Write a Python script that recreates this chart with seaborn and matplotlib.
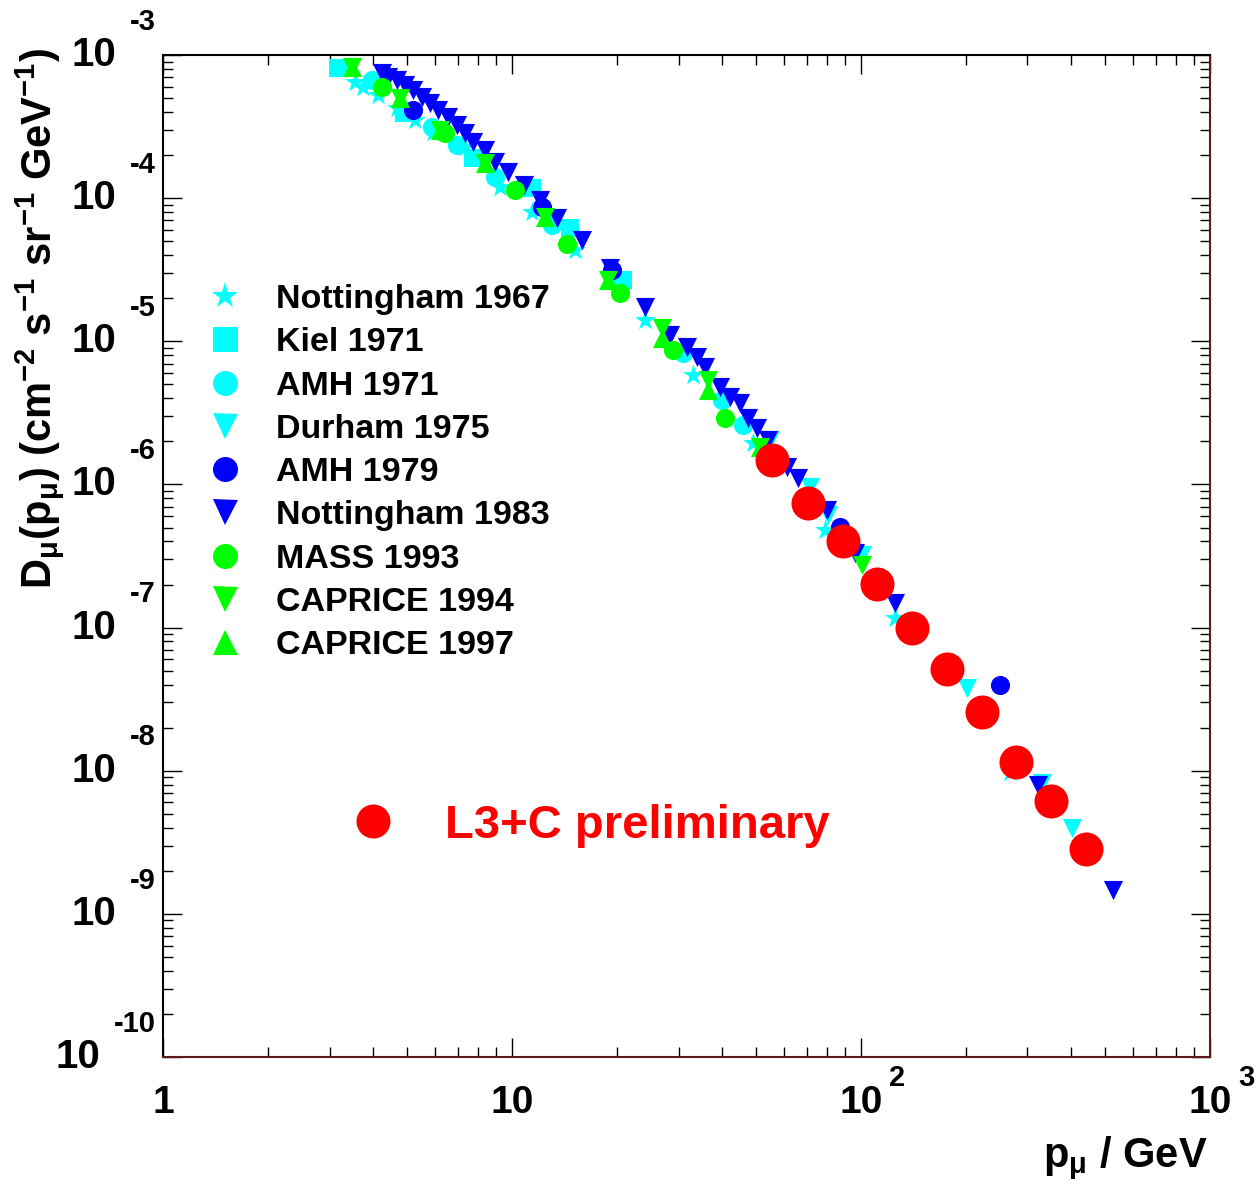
import numpy as np
import matplotlib
matplotlib.use("Agg")
import matplotlib.pyplot as plt
from matplotlib.lines import Line2D
from matplotlib.ticker import LogLocator, NullFormatter
import seaborn as sns

# Muon momentum spectrum, p in GeV, D in cm^-2 s^-1 sr^-1 GeV^-1
nott67_p = [3.55, 3.74, 4.13, 4.68, 5.27, 5.94, 7.33, 9.24, 11.4, 15.2, 24.0, 33.0, 49.0, 78.9, 125, 267]
nott67_d = [6.48e-4, 5.98e-4, 5.25e-4, 4.26e-4, 3.51e-4, 2.90e-4, 2.28e-4, 1.20e-4, 8.0e-5, 4.34e-5,
            1.41e-5, 5.80e-6, 1.94e-6, 4.80e-7, 1.16e-7, 9.8e-9]

kiel71_p = [3.17, 4.90, 7.73, 11.4, 14.7, 20.8]
kiel71_d = [8.11e-4, 3.93e-4, 1.91e-4, 1.18e-4, 6.18e-5, 2.68e-5]

amh71_p = [3.97, 5.90, 6.96, 8.94, 13.0, 30.9, 40.0, 45.9]
amh71_d = [6.69e-4, 3.14e-4, 2.35e-4, 1.40e-4, 6.49e-5, 8.27e-6, 3.88e-6, 2.60e-6]

durham75_p = [54.9, 71.4, 80.4, 101, 201, 330, 402]
durham75_d = [2.04e-6, 9.57e-7, 6.10e-7, 3.21e-7, 3.77e-8, 8.18e-9, 3.96e-9]

amh79_p = [5.20, 12.2, 19.3, 87.1, 250]
amh79_d = [4.13e-4, 8.66e-5, 3.15e-5, 5.03e-7, 3.96e-8]

nott83_p = [4.24, 4.41, 4.68, 4.94, 5.20, 5.52, 5.82, 6.14, 6.55, 6.96, 7.33, 7.73, 8.37, 8.94,
            9.74, 10.8, 12.0, 13.5, 15.9, 19.1, 24.0, 28.4, 31.7, 33.9, 35.7, 39.5, 42.1, 45.0,
            47.5, 50.4, 54.1, 61.4, 66.0, 79.9, 96.1, 125, 321, 527]
nott83_d = [7.48e-4, 7.02e-4, 6.69e-4, 6.17e-4, 5.69e-4, 5.09e-4, 4.62e-4, 4.13e-4, 3.69e-4,
            3.24e-4, 2.85e-4, 2.47e-4, 2.17e-4, 1.79e-4, 1.52e-4, 1.23e-4, 9.70e-5, 7.26e-5,
            5.10e-5, 3.25e-5, 1.73e-5, 1.10e-5, 9.11e-6, 7.75e-6, 6.60e-6, 4.78e-6, 4.07e-6,
            3.70e-6, 2.91e-6, 2.47e-6, 2.04e-6, 1.32e-6, 1.11e-6, 6.61e-7, 3.31e-7, 1.48e-7,
            7.92e-9, 1.46e-9]

mass93_p = [4.24, 6.43, 10.2, 14.4, 20.4, 28.9, 40.8]
mass93_d = [5.98e-4, 2.85e-4, 1.14e-4, 4.78e-5, 2.17e-5, 8.68e-6, 2.91e-6]

caprice94_p = [3.48, 4.78, 6.22, 8.37, 12.4, 18.8, 26.9, 36.4, 51.3, 101]
caprice94_d = [8.24e-4, 5.01e-4, 2.99e-4, 1.76e-4, 7.38e-5, 2.68e-5, 1.24e-5, 5.36e-6, 1.82e-6, 2.73e-7]

caprice97_p = [3.48, 4.78, 6.22, 8.37, 12.4, 18.8, 26.9, 36.4, 51.3]
caprice97_d = [8.24e-4, 5.01e-4, 2.99e-4, 1.76e-4, 7.38e-5, 2.68e-5, 1.05e-5, 4.56e-6, 1.82e-6]

l3c_p = [55.6, 70.5, 88.8, 111, 140, 176, 222, 278, 350, 441]
l3c_d = [1.48e-6, 7.40e-7, 4.02e-7, 2.01e-7, 1.00e-7, 5.12e-8, 2.56e-8, 1.16e-8, 6.12e-9, 2.83e-9]

x_exponents = [0, 1, 2, 3]
y_exponents = [-10, -9, -8, -7, -6, -5, -4, -3]

CYAN, BLUE, GREEN, RED = "#00FFFF", "#0000FF", "#00FF00", "#FF0000"

series = [
    ("Nottingham 1967", nott67_p, nott67_d, "*", CYAN, 250),
    ("Kiel 1971", kiel71_p, kiel71_d, "s", CYAN, 169),
    ("AMH 1971", amh71_p, amh71_d, "o", CYAN, 190),
    ("Durham 1975", durham75_p, durham75_d, "v", CYAN, 190),
    ("AMH 1979", amh79_p, amh79_d, "o", BLUE, 190),
    ("Nottingham 1983", nott83_p, nott83_d, "v", BLUE, 190),
    ("MASS 1993", mass93_p, mass93_d, "o", GREEN, 190),
    ("CAPRICE 1994", caprice94_p, caprice94_d, "v", GREEN, 190),
    ("CAPRICE 1997", caprice97_p, caprice97_d, "^", GREEN, 190),
]

sns.set_theme(style="white")
plt.rcParams['font.family'] = ['Liberation Sans', 'DejaVu Sans']
plt.rcParams['font.weight'] = 'bold'
plt.rcParams['text.color'] = 'black'
plt.rcParams['mathtext.fontset'] = 'custom'
plt.rcParams['mathtext.rm'] = 'Liberation Sans:bold'
plt.rcParams['mathtext.it'] = 'Liberation Sans:bold'
plt.rcParams['mathtext.bf'] = 'Liberation Sans:bold'
plt.rcParams['mathtext.default'] = 'regular'

fig = plt.figure(figsize=(12.58, 11.89), dpi=100)
fig.patch.set_facecolor("white")
ax = fig.add_axes([0.1296, 0.1110, 0.8322, 0.8427])
ax.set_facecolor("white")

for i, (name, p, d, m, c, s) in enumerate(series):
    sns.scatterplot(x=p, y=d, marker=m, color=c, s=s, linewidth=0, ax=ax,
                    legend=False, zorder=3 + i)
sns.scatterplot(x=l3c_p, y=l3c_d, marker="o", color=RED, s=600, linewidth=0, ax=ax,
                legend=False, zorder=20)

ax.set_xscale("log")
ax.set_yscale("log")
ax.set_xlim(1, 1000)
ax.set_ylim(1e-10, 1e-3)
ax.set_xlabel("")
ax.set_ylabel("")

ax.xaxis.set_major_locator(LogLocator(base=10, numticks=20))
ax.xaxis.set_minor_locator(LogLocator(base=10, subs=np.arange(2, 10), numticks=100))
ax.yaxis.set_major_locator(LogLocator(base=10, numticks=20))
ax.yaxis.set_minor_locator(LogLocator(base=10, subs=np.arange(2, 10), numticks=100))
ax.xaxis.set_minor_formatter(NullFormatter())
ax.yaxis.set_minor_formatter(NullFormatter())
ax.tick_params(which="both", direction="in", top=True, right=True, bottom=True, left=True,
               labelbottom=False, labelleft=False, color="black", width=1)
ax.tick_params(which="major", length=14)
ax.tick_params(which="minor", length=7)

for side in ["left", "top"]:
    ax.spines[side].set_color("black")
    ax.spines[side].set_linewidth(1.5)
for side in ["bottom", "right"]:
    ax.spines[side].set_color("#5c1a1a")
    ax.spines[side].set_linewidth(1.5)

# ROOT-style tick labels: "10" with a detached exponent
for e in y_exponents:
    exp_txt = ax.annotate(f"{e}", xy=(0, 10.0 ** e), xycoords=("axes fraction", "data"),
                          xytext=(-5, 24), textcoords="offset points", color="black",
                          ha="right", va="center", fontsize=21, fontweight="bold")
    ax.annotate("10", xy=(0, 0.5), xycoords=exp_txt, xytext=(-10, -24),
                textcoords="offset points", ha="right", va="center", color="black",
                fontsize=29, fontweight="bold")

for e in x_exponents:
    label = "1" if e == 0 else "10"
    ax.annotate(label, xy=(10.0 ** e, 0), xycoords=("data", "axes fraction"),
                xytext=(0, -33), textcoords="offset points", color="black",
                ha="center", va="center", fontsize=28, fontweight="bold")
    if e >= 2:
        ax.annotate(f"{e}", xy=(10.0 ** e, 0), xycoords=("data", "axes fraction"),
                    xytext=(26, -15), textcoords="offset points", color="black",
                    ha="center", va="center", fontsize=21, fontweight="bold")

fig.text(40 / 1258, 1 - 48 / 1189,
         r"D$_{\mu}$(p$_{\mu}$) (cm$^{-2}$ s$^{-1}$ sr$^{-1}$ GeV$^{-1}$)",
         rotation=90, ha="center", va="top", fontsize=30, fontweight="bold", color="black")
fig.text(1208 / 1258, 1 - 1158 / 1189, r"p$_{\mu}$ / GeV",
         ha="right", va="center", fontsize=30, fontweight="bold", color="black")

handles = [Line2D([], [], linestyle="none", marker=m, color=c, markeredgewidth=0,
                  markersize=(18 if m != "*" else 20)) for _, _, _, m, c, _ in series]
labels = [name for name, *_ in series]
leg = ax.legend(handles, labels, loc="upper left", bbox_to_anchor=(0.043, 0.7715),
                frameon=False, handlelength=1.0, handletextpad=1.0,
                labelspacing=0.36, borderpad=0, borderaxespad=0,
                prop={"weight": "bold", "size": 24.5}, labelcolor="black")
ax.add_artist(leg)

l3_handle = Line2D([], [], linestyle="none", marker="o", color=RED, markeredgewidth=0,
                   markersize=24.5)
leg2 = ax.legend([l3_handle], ["L3+C preliminary"], loc="upper left",
                 bbox_to_anchor=(0.178, 0.2525), frameon=False, handlelength=1.0,
                 handletextpad=1.03, borderpad=0, borderaxespad=0,
                 prop={"weight": "bold", "size": 34}, labelcolor=RED)

fig.savefig("out.png", dpi=100)
